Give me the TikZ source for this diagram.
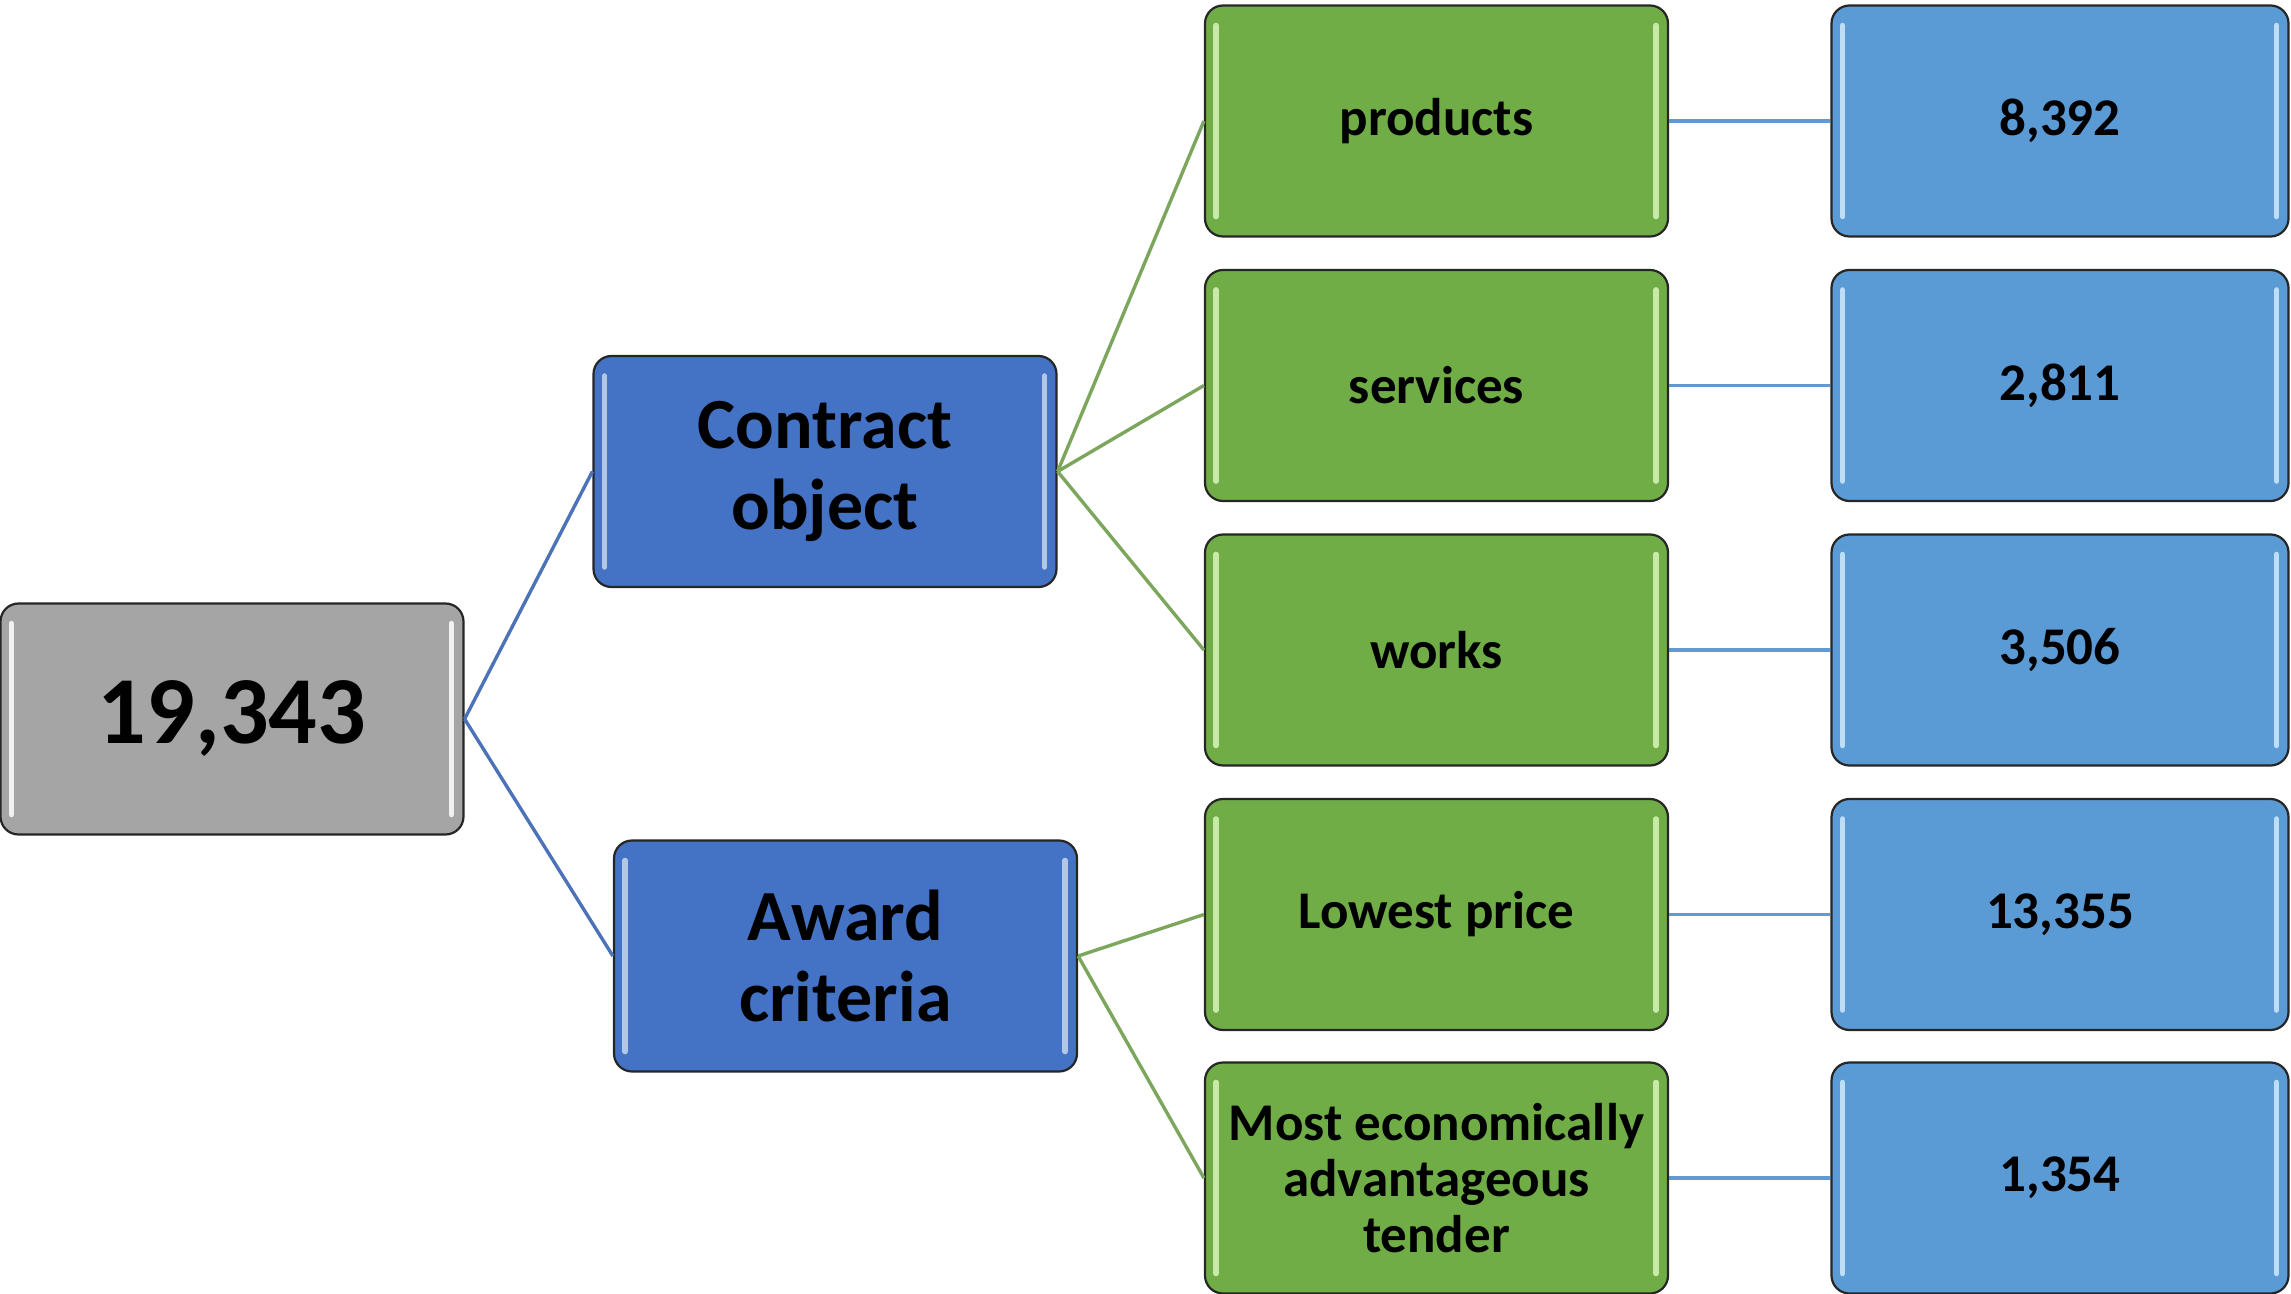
\documentclass[tikz,border=0pt]{standalone}
\usepackage{fontspec}
\setmainfont{Carlito}
\definecolor{cgray}{HTML}{A5A5A5}
\definecolor{cdblue}{HTML}{4472C4}
\definecolor{cgreen}{HTML}{70AD47}
\definecolor{clblue}{HTML}{5B9BD5}
\definecolor{lroot}{HTML}{4C72B8}
\definecolor{lgreen}{HTML}{7BA65B}
\definecolor{lblue}{HTML}{5F9AD2}
\definecolor{hlgreen}{HTML}{D8F5B8}
\definecolor{hlblue}{HTML}{D0EAFF}
\begin{document}
\begin{tikzpicture}[x=0.5pt,y=-0.5pt,
  box/.style={draw=black!85, line width=1.1pt, rounded corners=9pt,
    minimum width=231.5pt, minimum height=115.5pt, align=center,
    inner sep=0pt, text=black,
    path picture={
      \draw[#1, opacity=0.85, line width=2.8pt, line cap=round]
        ([xshift=5.5pt,yshift=-10pt]path picture bounding box.north west) --
        ([xshift=5.5pt,yshift=10pt]path picture bounding box.south west);
      \draw[#1, opacity=0.85, line width=2.8pt, line cap=round]
        ([xshift=-6pt,yshift=-10pt]path picture bounding box.north east) --
        ([xshift=-6pt,yshift=10pt]path picture bounding box.south east);
    }},
  rootbox/.style={box=white, fill=cgray, font=\fontsize{48}{52}\selectfont\bfseries},
  midbox/.style={box=white!70!cdblue, fill=cdblue, font=\fontsize{36}{40.5}\selectfont\bfseries},
  catbox/.style={box=hlgreen, fill=cgreen, font=\fontsize{26.5}{28}\selectfont\bfseries},
  numbox/.style={box=hlblue, fill=clblue, minimum width=228.5pt, font=\fontsize{26.5}{28}\selectfont\bfseries},
  rootline/.style={draw=lroot, line width=1.7pt},
  greenline/.style={draw=lgreen, line width=1.7pt},
  blueline/.style={draw=lblue, line width=1.8pt}
]
\useasboundingbox (0,0) rectangle (2291,1294);

\node[rootbox] (root) at (232,719) {19,343};
\node[midbox] (co) at (825,471.5) {Contract\\object};
\node[midbox] (ac) at (845.5,956) {Award\\criteria};

\node[catbox] (p) at (1436.5,121) {products};
\node[catbox] (s) at (1436.5,385.5) {services};
\node[catbox] (w) at (1436.5,650) {works};
\node[catbox] (lp) at (1436.5,914.5) {Lowest price};
\node[catbox] (meat) at (1436.5,1178) {Most economically\\advantageous\\tender};

\node[numbox] (n1) at (2060,121) {8,392};
\node[numbox] (n2) at (2060,385.5) {2,811};
\node[numbox] (n3) at (2060,650) {3,506};
\node[numbox] (n4) at (2060,914.5) {13,355};
\node[numbox] (n5) at (2060,1178) {1,354};

\draw[rootline] (root.east) -- (co.west);
\draw[rootline] (root.east) -- (ac.west);

\draw[greenline] (co.east) -- (p.west);
\draw[greenline] (co.east) -- (s.west);
\draw[greenline] (co.east) -- (w.west);
\draw[greenline] (ac.east) -- (lp.west);
\draw[greenline] (ac.east) -- (meat.west);

\draw[blueline] (p.east) -- (n1.west);
\draw[blueline] (s.east) -- (n2.west);
\draw[blueline] (w.east) -- (n3.west);
\draw[blueline] (lp.east) -- (n4.west);
\draw[blueline] (meat.east) -- (n5.west);
\end{tikzpicture}
\end{document}
